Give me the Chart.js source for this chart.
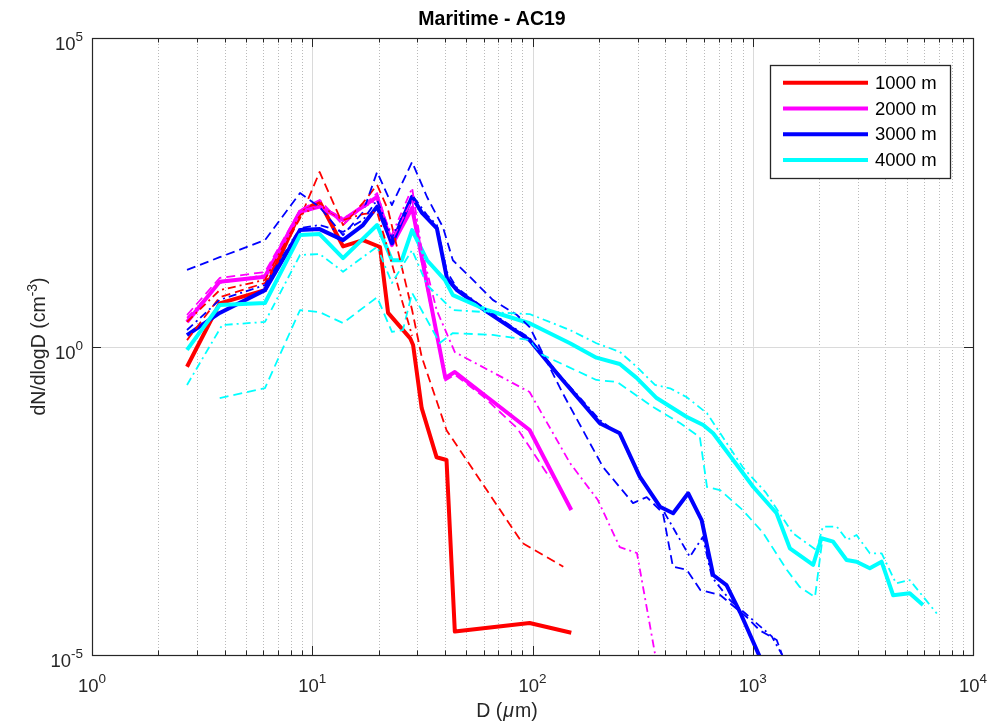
<!DOCTYPE html>
<html><head><meta charset="utf-8">
<script src="https://cdn.jsdelivr.net/npm/chart.js@4.4.1/dist/chart.umd.min.js"></script>
<style>html,body{margin:0;padding:0;background:#fff;}#wrap{width:991px;height:723px;}</style>
</head><body><div id="wrap"><canvas id="c" width="991" height="723"></canvas></div>
<script>
// ---------------- data (D in µm, dN/dlogD in cm^-3) ----------------
const chartTitle = 'Maritime - AC19';
const xTitleParts = ['D (', 'μ', 'm)'];
const yTitleBase = 'dN/dlogD (cm';
const yTitleSup = '-3';
const yTitleEnd = ')';
const xTickValues = [1, 10, 100, 1000, 10000];
const xTickExponents = ['0', '1', '2', '3', '4'];
const yTickValues = [1e-5, 1, 1e5];
const yTickExponents = ['-5', '0', '5'];
const seriesLabels = ['1000 m', '2000 m', '3000 m', '4000 m'];
const seriesColors = ['#ff0000', '#ff00ff', '#0000ff', '#00ffff'];

// 1000 m
const alt1000SolidX = [2.7, 3.8, 6.1, 8.8, 10.8, 13.8, 17.0, 20.3, 22.1, 27.8, 28.7, 31.4, 36.7, 40.7, 44.4, 97, 150];
const alt1000SolidY = [0.47, 5.0, 8.2, 151, 222, 42, 53, 41, 3.5, 1.37, 1.06, 0.10, 0.016, 0.0145, 2.4e-5, 3.3e-5, 2.3e-5];
const alt1000DashX = [2.7, 3.8, 6.1, 8.8, 10.8, 13.8, 17.0, 19.7, 22.1, 28.4, 31.4, 40.7, 90, 138];
const alt1000DashY = [1.27, 6.3, 10.7, 120, 674, 93, 213, 417, 163, 3.9, 0.68, 0.044, 6.5e-4, 2.7e-4];
const alt1000DotX = [2.7, 3.8, 6.1, 8.8, 10.8, 13.8, 17.0, 19.7, 22.1, 25.5, 28.4];
const alt1000DotY = [2.5, 8.2, 12, 135, 195, 112, 140, 151, 37, 5.7, 1.5];

// 2000 m
const alt2000SolidX = [2.7, 3.8, 6.1, 8.8, 10.8, 13.8, 19.7, 23.0, 28.4, 40.2, 44.4, 97, 150];
const alt2000SolidY = [2.5, 11.2, 13.5, 153, 185, 112, 267, 44, 176, 0.31, 0.386, 0.0443, 0.00224];
const alt2000DashX = [2.7, 3.8, 6.1, 8.8, 10.8, 13.8, 19.7, 23.0, 28.4, 31.4, 36.7, 40.2, 44.4, 60, 85, 120];
const alt2000DashY = [3.24, 12.9, 16.1, 163, 237, 93, 307, 53, 237, 23.4, 1.54, 0.28, 0.35, 0.153, 0.0478, 0.0074];
const alt2000DotX = [2.7, 3.8, 6.1, 8.8, 10.8, 13.8, 19.7, 23.0, 28.4, 31.4, 36.7, 44.4, 97, 148, 198, 249, 298, 367];
const alt2000DotY = [2.9, 10.7, 14.4, 151, 189, 120, 237, 64, 371, 36.6, 3.9, 0.81, 0.183, 0.0129, 0.00325, 5.6e-4, 4.5e-4, 7.1e-6];

// 3000 m
const alt3000SolidX = [2.7, 3.8, 6.1, 8.8, 10.8, 13.8, 17.0, 19.7, 23.0, 28.4, 31.5, 36.8, 40.9, 45.4, 62, 97, 129, 202, 249, 307, 379, 435, 509, 586, 661, 760, 875, 1077];
const alt3000SolidY = [1.53, 3.5, 8.2, 77, 80, 53, 93, 185, 47, 267, 146, 82, 12.7, 8.2, 3.67, 1.27, 0.368, 0.0569, 0.0392, 0.00776, 0.00253, 0.00198, 0.00418, 0.00154, 1.98e-4, 1.36e-4, 4.97e-5, 9.3e-6];
const alt3000DashX = [2.7, 3.8, 6.1, 8.8, 10.8, 13.8, 17.0, 19.7, 23.0, 28.4, 33.2, 39.2, 43.5, 52, 66, 85, 97, 137, 209, 286, 330, 391, 434, 502, 578, 711, 940, 1077, 1285, 1370];
const alt3000DashY = [17.4, 28, 53, 307, 182, 64, 151, 673, 196, 980, 265, 86, 25, 13.4, 5.7, 3.24, 2.07, 0.176, 0.0111, 0.0029, 0.00363, 0.002, 2.7e-4, 2.4e-4, 1.13e-4, 9.4e-5, 4.1e-5, 2.5e-5, 1.75e-5, 9.3e-6];
const alt3000DotX = [2.7, 3.8, 6.1, 8.8, 10.8, 13.8, 17.0, 19.7, 23.0, 28.4, 33.2, 36.8, 40.9, 45.4, 62, 97, 129, 202, 249, 307, 391, 518, 593, 652, 787, 1000, 1220, 1400];
const alt3000DotY = [1.85, 5.7, 9.9, 83, 93, 72, 112, 237, 57, 285, 135, 93, 16.1, 8.9, 3.9, 1.37, 0.386, 0.0644, 0.0368, 0.0074, 0.00224, 3.9e-4, 8.2e-4, 1.84e-4, 7.8e-5, 3.7e-5, 2.0e-5, 8.3e-6];

// 4000 m
const alt4000SolidX = [2.7, 3.8, 6.1, 8.8, 10.8, 13.8, 19.7, 23.0, 25.5, 28.4, 33.2, 40.0, 43.5, 62, 97, 148, 195, 249, 297, 366, 500, 596, 661, 815, 1004, 1283, 1474, 1880, 2050, 2317, 2667, 2960, 3400, 3845, 4340, 5160, 5930];
const alt4000SolidY = [0.88, 4.7, 5.07, 64, 66.5, 27, 93, 25, 25, 77, 25, 12, 6.8, 3.9, 2.38, 1.13, 0.66, 0.52, 0.31, 0.146, 0.0728, 0.0535, 0.0392, 0.0145, 0.00534, 0.00198, 5.37e-4, 2.88e-4, 7.8e-4, 6.86e-4, 3.47e-4, 3.25e-4, 2.54e-4, 3.25e-4, 9.3e-5, 1.0e-4, 6.45e-5];
const alt4000DashX = [3.8, 6.1, 8.8, 10.8, 13.8, 19.7, 23.0, 25.8, 28.4, 37.9, 43.5, 66, 97, 111, 195, 242, 352, 467, 575, 620, 710, 900, 1115, 1430, 1637, 1917, 2060];
const alt4000DashY = [0.146, 0.212, 3.9, 3.6, 2.4, 6.3, 1.72, 1.85, 7.4, 1.14, 1.65, 1.54, 1.27, 0.73, 0.287, 0.266, 0.105, 0.0575, 0.034, 0.00528, 0.00472, 0.00224, 9.5e-4, 2.38e-4, 1.26e-4, 8.7e-5, 6.5e-4];
const alt4000DotX = [2.7, 3.9, 6.1, 8.8, 10.8, 13.8, 19.7, 23.0, 28.4, 33.2, 43.5, 57.6, 97, 148, 195, 249, 297, 360, 421, 500, 620, 900, 1150, 1520, 1950, 2080, 2410, 2680, 2960, 3400, 3850, 4470, 5160, 6850];
const alt4000DotY = [0.238, 2.23, 2.5, 30.4, 31.6, 16.3, 41.4, 10.7, 36.6, 9.9, 3.9, 3.66, 3.36, 1.85, 1.13, 0.82, 0.47, 0.238, 0.21, 0.152, 0.0827, 0.0111, 0.00423, 9.4e-4, 5.0e-4, 0.0012, 0.0012, 7.3e-4, 8.8e-4, 4.45e-4, 4.45e-4, 1.45e-4, 1.64e-4, 4.7e-5];

// ---------------- build ----------------
const FONT = '"Liberation Sans", Arial, Helvetica, sans-serif';
const AXIS_COLOR = '#262626';
function pts(xs, ys) { return xs.map((x, i) => ({ x: x, y: ys[i] })); }

const groups = [
  { solid: [alt1000SolidX, alt1000SolidY], dash: [alt1000DashX, alt1000DashY], dot: [alt1000DotX, alt1000DotY] },
  { solid: [alt2000SolidX, alt2000SolidY], dash: [alt2000DashX, alt2000DashY], dot: [alt2000DotX, alt2000DotY] },
  { solid: [alt3000SolidX, alt3000SolidY], dash: [alt3000DashX, alt3000DashY], dot: [alt3000DotX, alt3000DotY] },
  { solid: [alt4000SolidX, alt4000SolidY], dash: [alt4000DashX, alt4000DashY], dot: [alt4000DotX, alt4000DotY] }
];

const datasets = [];
let drawIndex = 0;
const styles = [
  { key: 'solid', width: 4, dash: [] },
  { key: 'dash', width: 1.8, dash: [9, 5] },
  { key: 'dot', width: 1.8, dash: [8, 4, 2, 4] }
];
styles.forEach(st => {
  groups.forEach((g, gi) => {
    datasets.push({
      label: seriesLabels[gi] + (st.key === 'solid' ? '' : ' ' + st.key),
      data: pts(g[st.key][0], g[st.key][1]),
      borderColor: seriesColors[gi],
      backgroundColor: seriesColors[gi],
      borderWidth: st.width,
      borderDash: st.dash,
      borderJoinStyle: 'round',
      showLine: true,
      pointRadius: 0,
      tension: 0,
      clip: 0,
      order: 100 - (drawIndex++),
      isLegend: st.key === 'solid'
    });
  });
});

function drawPow(ctx, exp, anchorX, baseY, align) {
  ctx.font = '18.5px ' + FONT;
  const wb = ctx.measureText('10').width;
  ctx.font = '13.5px ' + FONT;
  const we = ctx.measureText(exp).width;
  const total = wb + we;
  const x0 = align === 'center' ? anchorX - total / 2 : anchorX - total;
  ctx.textAlign = 'left';
  ctx.textBaseline = 'alphabetic';
  ctx.font = '18.5px ' + FONT;
  ctx.fillText('10', x0, baseY);
  ctx.font = '13.5px ' + FONT;
  ctx.fillText(exp, x0 + wb, baseY - 9);
}

const matlabAxes = {
  id: 'matlabAxes',
  beforeDatasetsDraw(chart) {
    const { ctx, chartArea: a, scales } = chart;
    const x = scales.x, y = scales.y;
    ctx.save();
    ctx.strokeStyle = '#bababa';
    ctx.lineWidth = 1;
    ctx.setLineDash([1, 2]);
    for (let d = 0; d < 4; d++) {
      for (let k = 2; k <= 9; k++) {
        const px = Math.round(x.getPixelForValue(k * Math.pow(10, d))) + 0.5;
        ctx.beginPath(); ctx.moveTo(px, a.top); ctx.lineTo(px, a.bottom); ctx.stroke();
      }
    }
    ctx.setLineDash([]);
    ctx.strokeStyle = '#dadada';
    xTickValues.forEach(v => {
      if (v <= x.min || v >= x.max) return;
      const px = Math.round(x.getPixelForValue(v)) + 0.5;
      ctx.beginPath(); ctx.moveTo(px, a.top); ctx.lineTo(px, a.bottom); ctx.stroke();
    });
    yTickValues.forEach(v => {
      if (v <= y.min || v >= y.max) return;
      const py = Math.round(y.getPixelForValue(v)) + 0.5;
      ctx.beginPath(); ctx.moveTo(a.left, py); ctx.lineTo(a.right, py); ctx.stroke();
    });
    ctx.restore();
  },
  afterDatasetsDraw(chart) {
    const { ctx, chartArea: a, scales } = chart;
    const x = scales.x, y = scales.y;
    ctx.save();
    ctx.strokeStyle = AXIS_COLOR;
    ctx.fillStyle = AXIS_COLOR;
    ctx.lineWidth = 1;
    ctx.setLineDash([]);
    const majorLen = 9, minorLen = 4.5;
    for (let d = 0; d < 4; d++) {
      for (let k = 1; k <= 9; k++) {
        const v = k * Math.pow(10, d);
        if (v <= x.min) continue;
        const px = Math.round(x.getPixelForValue(v)) + 0.5;
        const len = k === 1 ? majorLen : minorLen;
        ctx.beginPath();
        ctx.moveTo(px, a.bottom); ctx.lineTo(px, a.bottom - len);
        ctx.moveTo(px, a.top); ctx.lineTo(px, a.top + len);
        ctx.stroke();
      }
    }
    yTickValues.forEach(v => {
      if (v <= y.min || v >= y.max) return;
      const py = Math.round(y.getPixelForValue(v)) + 0.5;
      ctx.beginPath();
      ctx.moveTo(a.left, py); ctx.lineTo(a.left + majorLen, py);
      ctx.moveTo(a.right, py); ctx.lineTo(a.right - majorLen, py);
      ctx.stroke();
    });
    ctx.lineWidth = 1.2;
    ctx.strokeRect(Math.round(a.left) + 0.5, Math.round(a.top) + 0.5, Math.round(a.right - a.left), Math.round(a.bottom - a.top));
    // tick labels
    ctx.fillStyle = AXIS_COLOR;
    xTickValues.forEach((v, i) => {
      drawPow(ctx, xTickExponents[i], x.getPixelForValue(v), a.bottom + 36.5, 'center');
    });
    yTickValues.forEach((v, i) => {
      drawPow(ctx, yTickExponents[i], a.left - 9, y.getPixelForValue(v) + 12, 'right');
    });
    // title
    ctx.fillStyle = '#000000';
    ctx.font = 'bold 19.5px ' + FONT;
    ctx.textAlign = 'center';
    ctx.textBaseline = 'middle';
    ctx.fillText(chartTitle, 492, 20);
    // x axis title with italic mu
    ctx.fillStyle = AXIS_COLOR;
    ctx.textBaseline = 'alphabetic';
    ctx.textAlign = 'left';
    const fN = '19.5px ' + FONT, fI = 'italic 19.5px ' + FONT;
    ctx.font = fN; const w0 = ctx.measureText(xTitleParts[0]).width; const w2 = ctx.measureText(xTitleParts[2]).width;
    ctx.font = fI; const w1 = ctx.measureText(xTitleParts[1]).width + 2;
    let tx = 507 - (w0 + w1 + w2) / 2;
    const tb = 717;
    ctx.font = fN; ctx.fillText(xTitleParts[0], tx, tb); tx += w0;
    ctx.font = fI; ctx.fillText(xTitleParts[1], tx + 1, tb); tx += w1;
    ctx.font = fN; ctx.fillText(xTitleParts[2], tx, tb);
    // y axis title with superscript
    ctx.save();
    ctx.translate(45, (a.top + a.bottom) / 2);
    ctx.rotate(-Math.PI / 2);
    const fS = '14px ' + FONT;
    ctx.font = fN; const u0 = ctx.measureText(yTitleBase).width; const u2 = ctx.measureText(yTitleEnd).width;
    ctx.font = fS; const u1 = ctx.measureText(yTitleSup).width;
    let ux = -(u0 + u1 + u2) / 2;
    ctx.font = fN; ctx.fillText(yTitleBase, ux, 0); ux += u0;
    ctx.font = fS; ctx.fillText(yTitleSup, ux, -8); ux += u1;
    ctx.font = fN; ctx.fillText(yTitleEnd, ux, 0);
    ctx.restore();
    // legend
    const lx = a.left + 678, ly = a.top + 27, lw = 180, lh = 113;
    ctx.fillStyle = '#ffffff';
    ctx.fillRect(lx, ly, lw, lh);
    ctx.strokeStyle = AXIS_COLOR;
    ctx.lineWidth = 1.3;
    ctx.strokeRect(lx + 0.5, ly + 0.5, lw, lh);
    const legendSets = chart.data.datasets.filter(ds => ds.isLegend);
    legendSets.forEach((ds, i) => {
      const ry = ly + 17.7 + i * 25.8;
      ctx.strokeStyle = ds.borderColor;
      ctx.lineWidth = 4;
      ctx.beginPath(); ctx.moveTo(lx + 13, ry); ctx.lineTo(lx + 98, ry); ctx.stroke();
      ctx.fillStyle = '#000000';
      ctx.font = '18.5px ' + FONT;
      ctx.textAlign = 'left';
      ctx.textBaseline = 'middle';
      ctx.fillText(ds.label, lx + 105, ry + 1);
    });
    ctx.restore();
  }
};

new Chart(document.getElementById('c'), {
  type: 'scatter',
  data: { datasets: datasets },
  options: {
    responsive: false,
    animation: false,
    devicePixelRatio: 1,
    layout: { padding: { left: 0, right: 18, top: 38, bottom: 0 } },
    plugins: {
      legend: { display: false },
      tooltip: { enabled: false },
      title: { display: false }
    },
    scales: {
      x: {
        type: 'logarithmic', position: 'bottom', min: 1, max: 10000,
        grid: { display: false }, border: { display: false },
        ticks: { display: false },
        afterFit(s) { s.height = 68; }
      },
      y: {
        type: 'logarithmic', position: 'left', min: 1e-5, max: 1e5,
        grid: { display: false }, border: { display: false },
        ticks: { display: false },
        afterFit(s) { s.width = 92; }
      }
    }
  },
  plugins: [matlabAxes]
});
</script>
</body></html>
